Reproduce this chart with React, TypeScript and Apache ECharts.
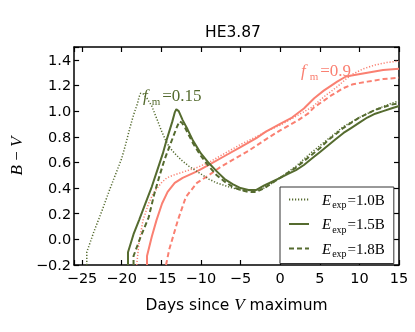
import React, { useEffect, useRef } from 'react';
import * as echarts from 'echarts';

const GREEN = '#556B2F';
const SALMON = '#FA8072';

// f_m = 0.15 family (green)
const greenDotDays = [-24.4, -24.4, -23.5, -22.5, -21.5, -21.0, -20.0, -19.5, -19.0, -18.5, -18.0, -17.8, -17.6, -17.3, -16.8, -16.2, -15.5, -15.0, -14.5, -14.0, -13.3, -12.5, -11.5, -10.0, -9.0, -8.0, -7.0, -6.0, -5.0, -4.0, -3.0, -2.0, -1.0, 0, 2, 4, 6, 8, 10, 12, 14, 15];
const greenDotVals = [-0.2, -0.1, 0.06, 0.22, 0.39, 0.47, 0.63, 0.74, 0.86, 0.97, 1.06, 1.11, 1.14, 1.135, 1.1, 1.04, 0.93, 0.85, 0.78, 0.72, 0.67, 0.62, 0.57, 0.51, 0.47, 0.44, 0.42, 0.4, 0.385, 0.38, 0.38, 0.4, 0.44, 0.48, 0.57, 0.68, 0.78, 0.88, 0.95, 1.01, 1.06, 1.08];

const greenSolidDays = [-19.2, -19.2, -18.5, -17.8, -17.0, -16.2, -15.5, -14.8, -14.4, -13.6, -13.3, -13.1, -12.8, -12.3, -11.7, -11.0, -10.0, -9.0, -8.0, -7.0, -6.0, -5.0, -4.0, -3.0, -2.0, -1.0, 0, 1, 2, 3, 4, 5, 6, 7, 8, 9, 10, 11, 12, 13, 14, 15];
const greenSolidVals = [-0.2, -0.1, 0.04, 0.15, 0.28, 0.41, 0.54, 0.67, 0.76, 0.92, 0.99, 1.015, 1.0, 0.93, 0.86, 0.77, 0.67, 0.595, 0.53, 0.47, 0.43, 0.4, 0.385, 0.385, 0.42, 0.45, 0.48, 0.51, 0.54, 0.58, 0.63, 0.68, 0.73, 0.78, 0.83, 0.87, 0.91, 0.95, 0.98, 1.0, 1.02, 1.04];

const greenDashDays = [-18.5, -18.5, -17.6, -16.6, -15.9, -15.2, -14.6, -13.5, -13.0, -12.7, -12.4, -12.0, -11.5, -11.0, -10.0, -9.0, -8.0, -7.0, -6.0, -5.0, -4.0, -3.0, -2.0, -1.0, 0, 1, 2, 3, 4, 5, 6, 7, 8, 9, 10, 11, 12, 13, 14, 15];
const greenDashVals = [-0.2, -0.13, 0.02, 0.17, 0.35, 0.5, 0.62, 0.8, 0.88, 0.92, 0.91, 0.87, 0.81, 0.75, 0.65, 0.57, 0.5, 0.45, 0.41, 0.385, 0.37, 0.37, 0.4, 0.44, 0.48, 0.52, 0.56, 0.61, 0.66, 0.71, 0.77, 0.82, 0.87, 0.91, 0.95, 0.98, 1.01, 1.03, 1.05, 1.06];

// f_m = 0.9 family (salmon)
const salmonDotDays = [-18.1, -17.8, -17.3, -16.6, -16.0, -15.0, -14.3, -13.5, -12.0, -10.5, -9.0, -7.0, -5.0, -3.0, -1.8, 0, 2, 4, 5.7, 7.2, 8.3, 9.2, 10.5, 12, 13.5, 15];
const salmonDotVals = [-0.2, -0.02, 0.15, 0.28, 0.36, 0.44, 0.48, 0.5, 0.53, 0.56, 0.6, 0.67, 0.74, 0.8, 0.84, 0.89, 0.96, 1.03, 1.12, 1.19, 1.25, 1.29, 1.33, 1.36, 1.38, 1.39];

const salmonSolidDays = [-16.8, -16.8, -16.2, -15.6, -14.9, -14.2, -13.3, -12.3, -10.5, -9.0, -7.0, -5.0, -3.0, -1.8, 0, 1.5, 3, 4.3, 5.5, 7.2, 8.3, 9.2, 11, 13, 15];
const salmonSolidVals = [-0.2, -0.13, 0.02, 0.15, 0.28, 0.37, 0.44, 0.48, 0.53, 0.58, 0.65, 0.72, 0.79, 0.84, 0.9, 0.95, 1.02, 1.1, 1.16, 1.23, 1.27, 1.28, 1.3, 1.32, 1.33];

const salmonDashDays = [-14.4, -14.0, -12.9, -11.9, -10.5, -9.0, -7.4, -6.0, -4.0, -1.8, 0, 2.3, 3.5, 4.3, 6.4, 8, 9.2, 11, 13, 15];
const salmonDashVals = [-0.2, -0.08, 0.15, 0.33, 0.44, 0.5, 0.57, 0.62, 0.69, 0.78, 0.85, 0.93, 0.98, 1.03, 1.12, 1.18, 1.21, 1.23, 1.25, 1.26];

const legendNames = ['1.0B', '1.5B', '1.8B'];

const X_MIN = -26;
const X_MAX = 15;
const Y_MIN = -0.2;
const Y_MAX = 1.5;

export default function App() {
  const ref = useRef<HTMLDivElement>(null);
  useEffect(() => {
    document.body.style.margin = '0';
    const chart = echarts.init(ref.current!, null, { renderer: 'svg' });
    const pair = (d: number[], v: number[]) => d.map((x, i) => [x, v[i]]);
    const serif = '"Liberation Serif", "DejaVu Serif", serif';
    const sans = '"DejaVu Sans", sans-serif';
    const minus = (s: string) => s.replace('-', '\u2212');
    const xFmt = (v: number) => (Math.abs(v % 5) < 1e-9 ? minus(String(v)) : '');
    const yFmt = (v: number) => {
      const k = v / 0.2;
      return Math.abs(k - Math.round(k)) < 1e-6 ? minus(v.toFixed(1)) : '';
    };
    const axisLine = { show: true, onZero: false, lineStyle: { color: '#000', width: 1.5 } };
    const axisTick = { show: true, inside: true, length: 5, lineStyle: { color: '#000', width: 1.2 } };
    const tickFont = { fontFamily: sans, fontSize: 14.5, color: '#000' };
    const mk = (name: string, data: number[][], color: string, type: any, width: number, z: number) => ({
      type: 'line',
      name,
      data,
      symbol: 'none',
      showSymbol: false,
      clip: true,
      z,
      itemStyle: { color },
      lineStyle: { color, width, type },
    });
    const mathRich = (color: string) => ({
      f: { fontFamily: serif, fontStyle: 'italic', fontSize: 17, fill: color, lineHeight: 22 },
      m: { fontFamily: serif, fontSize: 11, fill: color, lineHeight: 11, verticalAlign: 'bottom', padding: [0, 2, 0, 4] },
      n: { fontFamily: serif, fontSize: 17, fill: color, lineHeight: 22 },
    });
    chart.setOption({
      animation: false,
      grid: { left: 65, right: 16, top: 47, bottom: 67, containLabel: false },
      xAxis: [
        {
          type: 'value', min: X_MIN, max: X_MAX, splitNumber: 8, position: 'bottom',
          axisLine, axisTick, splitLine: { show: false },
          axisLabel: { ...tickFont, margin: 5, formatter: xFmt },
          name: '{a|Days since }{v|V}{a| maximum}',
          nameLocation: 'middle', nameGap: 31,
          nameTextStyle: {
            rich: {
              a: { fontFamily: sans, fontSize: 15.5, color: '#000' },
              v: { fontFamily: serif, fontStyle: 'italic', fontSize: 17, color: '#000' },
            },
          },
        },
        {
          type: 'value', min: X_MIN, max: X_MAX, splitNumber: 8, position: 'top',
          axisLine, axisTick, splitLine: { show: false }, axisLabel: { show: false },
        },
      ],
      yAxis: [
        {
          type: 'value', min: Y_MIN, max: Y_MAX, interval: 0.2, position: 'left',
          axisLine, axisTick, splitLine: { show: false },
          axisLabel: { ...tickFont, margin: 3, formatter: yFmt },
          name: '{i|B}{n| \u2212 }{i|V}',
          nameLocation: 'middle', nameGap: 38, nameRotate: 90,
          nameTextStyle: {
            rich: {
              i: { fontFamily: serif, fontStyle: 'italic', fontSize: 17, color: '#000' },
              n: { fontFamily: serif, fontSize: 17, color: '#000' },
            },
          },
        },
        {
          type: 'value', min: Y_MIN, max: Y_MAX, interval: 0.2, position: 'right',
          axisLine, axisTick, splitLine: { show: false }, axisLabel: { show: false },
        },
      ],
      legend: {
        data: legendNames,
        orient: 'vertical',
        left: 280,
        top: 187,
        padding: [5, 9, 5, 8],
        itemWidth: 20,
        itemHeight: 14,
        itemGap: 7,
        backgroundColor: '#fff',
        borderColor: '#333',
        borderWidth: 1,
        borderRadius: 0,
        selectedMode: false,
        itemStyle: { opacity: 0, color: 'rgba(0,0,0,0)', borderWidth: 0 },
        formatter: (n: string) => `{e|E}{s|exp}{n|=${n}}`,
        textStyle: {
          rich: {
            e: { fontFamily: serif, fontStyle: 'italic', fontSize: 15, color: '#000', lineHeight: 20, padding: [0, 0, 0, 8] },
            s: { fontFamily: serif, fontSize: 10, color: '#000', lineHeight: 10, verticalAlign: 'bottom', padding: [0, 1, 0, 1] },
            n: { fontFamily: serif, fontSize: 15, color: '#000', lineHeight: 20 },
          },
        },
      },
      graphic: [
        {
          type: 'text', x: 233, y: 32,
          style: { text: 'HE3.87', font: `15.5px ${sans}`, fill: '#000', align: 'center', verticalAlign: 'middle' },
        },
        {
          type: 'text', x: 143, y: 95, z: 100,
          style: { text: '{f|f}{m|m}{n|=0.15}', align: 'left', verticalAlign: 'middle', rich: mathRich(GREEN) },
        },
        {
          type: 'text', x: 301, y: 70, z: 100,
          style: { text: '{f|f}{m|m}{n|=0.9}', align: 'left', verticalAlign: 'middle', rich: mathRich(SALMON) },
        },
      ],
      series: [
        mk('s0.9-1.0B', pair(salmonDotDays, salmonDotVals), SALMON, [1.2, 1.8], 1.5, 2),
        mk('s0.9-1.5B', pair(salmonSolidDays, salmonSolidVals), SALMON, 'solid', 2, 2),
        mk('s0.9-1.8B', pair(salmonDashDays, salmonDashVals), SALMON, [5, 3], 2, 2),
        mk('1.0B', pair(greenDotDays, greenDotVals), GREEN, [1.2, 1.8], 1.5, 3),
        mk('1.5B', pair(greenSolidDays, greenSolidVals), GREEN, 'solid', 2, 3),
        mk('1.8B', pair(greenDashDays, greenDashVals), GREEN, [5, 3], 2, 3),
      ],
    });
    return () => chart.dispose();
  }, []);
  return <div ref={ref} style={{ position: 'fixed', left: 0, top: 0, width: 415, height: 332 }} />;
}
